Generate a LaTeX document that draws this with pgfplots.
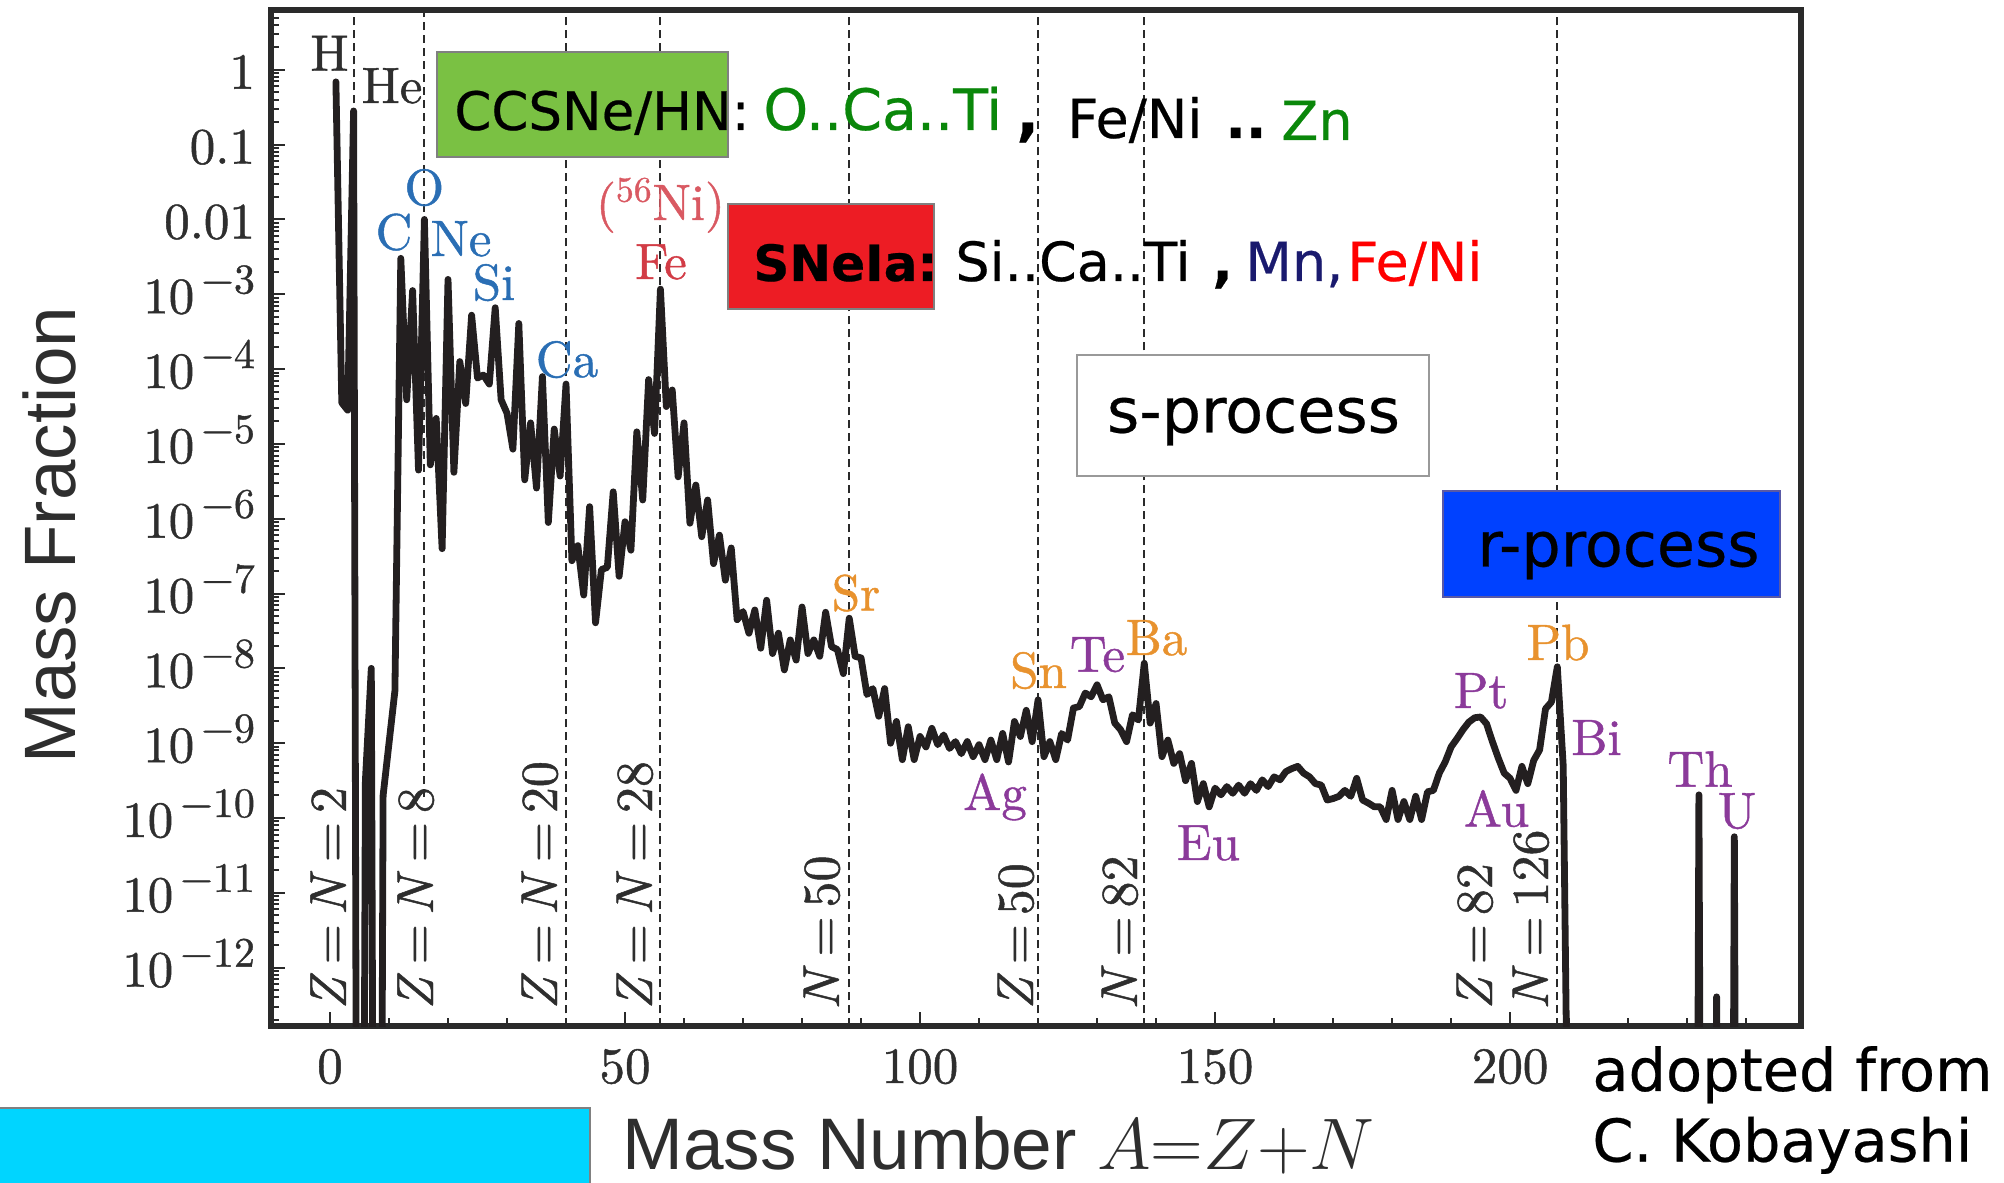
\RequirePackage{fix-cm}
\documentclass[border=0pt]{standalone}
\usepackage{fontspec}
\usepackage{pgfplots}
\usepackage{pgfplotstable}
\pgfplotsset{compat=1.18}

\newfontfamily\dejavu[FakeBold=0.4]{DejaVu Sans}
\newfontfamily\dejavubold[FakeBold=0.4]{DejaVu Sans Bold}
\newfontfamily\arialfont{Liberation Sans}
\newfontfamily\lmheavy[FakeBold=0.9, ItalicFont=lmroman10-italic.otf]{lmroman10-regular.otf}

\definecolor{curvecol}{HTML}{231F20}
\definecolor{framegray}{HTML}{2A2A2A}
\definecolor{labgray}{HTML}{2E2E2E}
\definecolor{elblue}{HTML}{2A6EB4}
\definecolor{elred}{HTML}{D23C46}
\definecolor{elorange}{HTML}{E8922E}
\definecolor{elpurple}{HTML}{8B3A9A}
\definecolor{boxgreen}{HTML}{7AC143}
\definecolor{boxred}{HTML}{ED1C24}
\definecolor{boxblue}{HTML}{0041FF}
\definecolor{boxcyan}{HTML}{00D5FF}
\definecolor{txtgreen}{HTML}{0A870A}
\definecolor{txtnavy}{HTML}{1A1A6E}
\definecolor{txtred}{HTML}{FF0000}

% solar-system mass fraction per mass number A
\pgfplotstableread{
A Y
1 6.9e-1
2 3.55e-5
3 2.82e-5
4 2.82e-1
5 1e-30
6 3.16e-10
7 1.0e-8
8 1e-30
9 2.0e-10
10 1.0e-9
11 5.0e-9
12 3.02e-3
13 3.89e-5
14 1.12e-3
15 4.47e-6
16 1.0e-2
17 5.25e-6
18 2.19e-5
19 3.98e-7
20 1.58e-3
21 4.17e-6
22 1.26e-4
23 3.47e-5
24 5.25e-4
25 7.59e-5
26 8.32e-5
27 6.31e-5
28 6.61e-4
29 3.89e-5
30 2.57e-5
31 8.51e-6
32 4.07e-4
33 3.31e-6
34 1.91e-5
35 2.57e-6
36 7.94e-5
37 8.91e-7
38 1.58e-5
39 3.72e-6
40 6.31e-5
41 2.75e-7
42 4.37e-7
43 9.55e-8
44 1.45e-6
45 4.07e-8
46 2.09e-7
47 2.24e-7
48 2.29e-6
49 1.70e-7
50 9.12e-7
51 3.80e-7
52 1.45e-5
53 1.78e-6
54 7.24e-5
55 1.38e-5
56 1.17e-3
57 3.16e-5
58 5.25e-5
59 3.63e-6
60 1.91e-5
61 8.71e-7
62 2.82e-6
63 5.75e-7
64 1.78e-6
65 2.51e-7
66 6.03e-7
67 1.51e-7
68 4.07e-7
69 4.47e-8
70 5.75e-8
71 2.95e-8
72 6.03e-8
73 1.86e-8
74 8.13e-8
75 1.58e-8
76 2.95e-8
77 9.55e-9
78 2.40e-8
79 1.29e-8
80 6.61e-8
81 1.58e-8
82 2.40e-8
83 1.45e-8
84 5.62e-8
85 1.95e-8
86 1.78e-8
87 8.51e-9
88 4.68e-8
89 1.45e-8
90 1.38e-8
91 4.47e-9
92 5.37e-9
93 2.29e-9
94 5.37e-9
95 1.00e-9
96 1.95e-9
97 6.03e-10
98 1.66e-9
99 6.03e-10
100 1.23e-9
101 8.91e-10
102 1.58e-9
103 9.55e-10
104 1.29e-9
105 8.51e-10
106 1.05e-9
107 7.24e-10
108 1.05e-9
109 6.61e-10
110 9.55e-10
111 6.03e-10
112 1.10e-9
113 6.03e-10
114 1.35e-9
115 5.62e-10
116 1.95e-9
117 1.23e-9
118 2.75e-9
119 1.05e-9
120 3.80e-9
121 6.61e-10
122 1.05e-9
123 6.03e-10
124 1.35e-9
125 1.10e-9
126 2.95e-9
127 3.09e-9
128 4.68e-9
129 4.17e-9
130 6.03e-9
131 3.80e-9
132 4.17e-9
133 1.86e-9
134 1.51e-9
135 1.05e-9
136 2.40e-9
137 2.04e-9
138 1.17e-8
139 1.86e-9
140 3.39e-9
141 6.61e-10
142 1.10e-9
143 5.37e-10
144 7.24e-10
145 3.16e-10
146 5.37e-10
147 1.66e-10
148 2.88e-10
149 1.41e-10
150 2.51e-10
151 2.04e-10
152 2.63e-10
153 2.14e-10
154 2.75e-10
155 2.14e-10
156 2.88e-10
157 2.34e-10
158 3.24e-10
159 2.63e-10
160 3.55e-10
161 3.24e-10
162 4.17e-10
163 4.57e-10
164 4.90e-10
165 3.98e-10
166 3.55e-10
167 2.88e-10
168 2.75e-10
169 1.74e-10
170 1.82e-10
171 1.95e-10
172 2.34e-10
173 1.95e-10
174 3.39e-10
175 1.74e-10
176 1.58e-10
177 1.41e-10
178 1.41e-10
179 9.55e-11
180 2.34e-10
181 9.55e-11
182 1.66e-10
183 9.55e-11
184 1.95e-10
185 9.55e-11
186 2.24e-10
187 2.34e-10
188 3.98e-10
189 5.62e-10
190 8.91e-10
191 1.15e-9
192 1.51e-9
193 1.91e-9
194 2.19e-9
195 2.24e-9
196 1.82e-9
197 1.05e-9
198 6.31e-10
199 3.98e-10
200 3.39e-10
201 2.34e-10
202 4.90e-10
203 2.88e-10
204 5.89e-10
205 8.13e-10
206 2.88e-9
207 3.55e-9
208 1.05e-8
209 5.01e-10
210 1e-16
231 1e-30
232 2.04e-10
233 1e-30
234 1e-30
235 4.07e-13
236 1e-30
237 1e-30
238 5.62e-11
239 1e-30
}\solar

% minor ticks at 2..9 of every decade
\def\yminor{1e-14}
\foreach \e in {-13,...,0}{\foreach \m in {2,...,9}{\xdef\yminor{\yminor,\m e\e}}}

\newcommand\lmfont{\lmheavy\fontsize{25.5}{30}\selectfont}
\newcommand\shellfont{\lmheavy\fontsize{26}{30}\selectfont}
\newcommand\boxfont{\dejavu\fontsize{27}{32}\selectfont}
% power-of-ten tick label with a large exponent
\newcommand\ptick[1]{10\kern3.5pt\raisebox{10pt}{\fontsize{21}{24}\selectfont −#1}}

\begin{document}
\begin{tikzpicture}[
  shell/.style={rotate=90, anchor=base west, inner sep=0pt, font=\shellfont, text=labgray},
  el/.style={anchor=base, inner sep=0pt, font=\lmfont},
  bt/.style={anchor=base west, inner sep=0pt, font=\boxfont},
  dashline/.style={line width=1pt, color=framegray, dash pattern=on 4pt off 2.5pt}
]
\begin{axis}[
  at={(0pt,0pt)}, anchor=south west,
  scale only axis, width=765pt, height=508pt,
  xmin=-10, xmax=249.3,
  ymode=log, ymin=1.66e-13, ymax=6.3,
  axis line style={line width=2.75pt, color=framegray},
  xtick={0,50,100,150,200},
  xticklabels={0,50,100,150,200},
  minor xtick={-10,0,...,240},
  ytick={1e-12,1e-11,1e-10,1e-9,1e-8,1e-7,1e-6,1e-5,1e-4,1e-3,1e-2,1e-1,1},
  yticklabels={\ptick{12},\ptick{11},\ptick{10},\ptick{9},\ptick{8},\ptick{7},\ptick{6},\ptick{5},\ptick{4},\ptick{3},0.01,0.1,1},
  minor ytick/.expanded={\yminor},
  tick align=inside, tick pos=left,
  major tick length=7pt, minor tick length=4pt,
  every tick/.style={line width=1pt, color=framegray},
  tick label style={font=\lmfont, text=labgray},
  xticklabel style={anchor=base, yshift=-28.5pt},
  yticklabel style={anchor=base east, xshift=-4.5pt, yshift=-9.5pt},
]
% magic-number guide lines
\draw[dashline] (axis cs:4,1e-14) -- (axis cs:4,10);
\draw[dashline] (axis cs:16,1.9e-10) -- (axis cs:16,10);
\draw[dashline] (axis cs:40,1e-14) -- (axis cs:40,10);
\draw[dashline] (axis cs:56,1e-14) -- (axis cs:56,10);
\draw[dashline] (axis cs:88,1e-14) -- (axis cs:88,10);
\draw[dashline] (axis cs:120,1e-14) -- (axis cs:120,10);
\draw[dashline] (axis cs:138,1e-14) -- (axis cs:138,10);
\draw[dashline] (axis cs:208,1e-14) -- (axis cs:208,10);

\addplot[line width=3.4pt, color=curvecol, line join=round, line cap=round] table[x=A, y=Y] {\solar};
\end{axis}

% shell closures
\node[shell] at (37.5pt,8pt) {{\itshape Z\/}\,=\,{\itshape N\/}\,=\,2};
\node[shell] at (81pt,8pt) {{\itshape Z\/}\,=\,{\itshape N\/}\,=\,8};
\node[shell] at (143pt,8pt) {{\itshape Z\/}\,=\,{\itshape N\/}\,=\,20};
\node[shell] at (190.5pt,8pt) {{\itshape Z\/}\,=\,{\itshape N\/}\,=\,28};
\node[shell] at (284pt,8pt) {{\itshape N\/}\,=\,50};
\node[shell] at (381pt,8pt) {{\itshape Z\/}\,=\,50};
\node[shell] at (433pt,8pt) {{\itshape N\/}\,=\,82};
\node[shell] at (610.5pt,8pt) {{\itshape Z\/}\,=\,82};
\node[shell] at (638.5pt,8pt) {{\itshape N\/}\,=\,126};

% element labels
\node[el, text=labgray] at (29.25pt,477.7pt) {H};
\node[el, text=labgray] at (60.5pt,461.5pt) {He};
\node[el, text=elblue] at (76.65pt,410.5pt) {O};
\node[el, text=elblue] at (61.5pt,388.25pt) {C};
\node[el, text=elblue] at (95pt,385pt) {Ne};
\node[el, text=elblue] at (111.5pt,363pt) {Si};
\node[el, text=elblue] at (148pt,324.5pt) {Ca};
\node[el, text=elred!85!white] at (194.75pt,403pt) {(\textsuperscript{56}Ni)};
\node[el, text=elred] at (195pt,373.5pt) {Fe};
\node[el, text=elorange] at (292.5pt,207.75pt) {Sr};
\node[el, text=elorange] at (383.75pt,169pt) {Sn};
\node[el, text=elpurple] at (413.25pt,177.15pt) {Te};
\node[el, text=elorange] at (442.75pt,185.5pt) {Ba};
\node[el, text=elpurple] at (362pt,108pt) {Ag};
\node[el, text=elpurple] at (468.75pt,83pt) {Eu};
\node[el, text=elpurple] at (605pt,159pt) {Pt};
\node[el, text=elpurple] at (612.75pt,99.75pt) {Au};
\node[el, text=elorange] at (643.5pt,183pt) {Pb};
\node[el, text=elpurple] at (662.75pt,135.5pt) {Bi};
\node[el, text=elpurple] at (714.5pt,119.65pt) {Th};
\node[el, text=elpurple] at (733pt,99pt) {U};

% core-collapse supernovae
\filldraw[fill=boxgreen, draw=gray, line width=0.8pt] (83pt,434.5pt) rectangle (228.5pt,487pt);
\node[bt, font=\dejavu\fontsize{26.5}{32}\selectfont] at (91.5pt,448pt) {CCSNe/HN:};
\node[bt, text=txtgreen, font=\dejavu\fontsize{28.5}{32}\selectfont] at (246pt,448pt) {O..Ca..Ti};
\node[bt, font=\dejavubold\fontsize{30}{32}\selectfont] at (372.5pt,446pt) {,};
\node[bt] at (398pt,444pt) {Fe/Ni};
\node[bt, font=\dejavubold\fontsize{27}{32}\selectfont] at (477pt,444pt) {..};
\node[bt, text=txtgreen] at (505pt,443pt) {Zn};

% type Ia supernovae
\filldraw[fill=boxred, draw=gray, line width=0.8pt] (228.5pt,358.5pt) rectangle (331.5pt,411pt);
\node[bt, font=\dejavubold\fontsize{25}{30}\selectfont] at (241pt,372.5pt) {SNeIa:};
\node[bt] at (342pt,372.5pt) {Si..Ca..Ti};
\node[bt, font=\dejavubold\fontsize{27}{32}\selectfont] at (470.5pt,372.5pt) {,};
\node[bt, text=txtnavy] at (487pt,372.5pt) {Mn,};
\node[bt, text=txtred] at (538pt,372.5pt) {Fe/Ni};

% neutron-capture processes
\filldraw[fill=white, draw=gray!80, line width=1pt] (403pt,275pt) rectangle (579pt,335.5pt);
\node[bt, font=\dejavu\fontsize{31}{36}\selectfont] at (417.8pt,296.75pt) {s-process};
\filldraw[fill=boxblue, draw=gray!70!blue, line width=0.8pt] (586pt,214.5pt) rectangle (754.5pt,267.5pt);
\node[bt, font=\dejavu\fontsize{31}{36}\selectfont] at (603pt,229.8pt) {r-process};

% axis titles
\node[rotate=90, anchor=base west, inner sep=0pt, font=\arialfont\fontsize{36.4}{40}\selectfont, text=labgray] at (-97.5pt,131pt) {Mass Fraction};
\node[anchor=base west, inner sep=0pt, font=\arialfont\fontsize{36.5}{40}\selectfont, text=labgray] at (175.5pt,-72pt) {Mass Number $A{=}Z{+}N$};

% credit and lower-left panel
\node[bt, font=\dejavu\fontsize{29.5}{34}\selectfont] at (660.5pt,-32.5pt) {adopted from};
\node[bt, font=\dejavu\fontsize{29.5}{34}\selectfont] at (660.5pt,-67.8pt) {C. Kobayashi};
\fill[boxcyan] (-135.5pt,-78.5pt) rectangle (159.5pt,-41pt);
\draw[gray, line width=0.8pt] (-135.5pt,-41pt) -- (159.5pt,-41pt) -- (159.5pt,-78.5pt);

\pgfresetboundingbox
\path[use as bounding box] (-135.5pt,-78.5pt) rectangle (866.5pt,513pt);
\end{tikzpicture}
\end{document}
